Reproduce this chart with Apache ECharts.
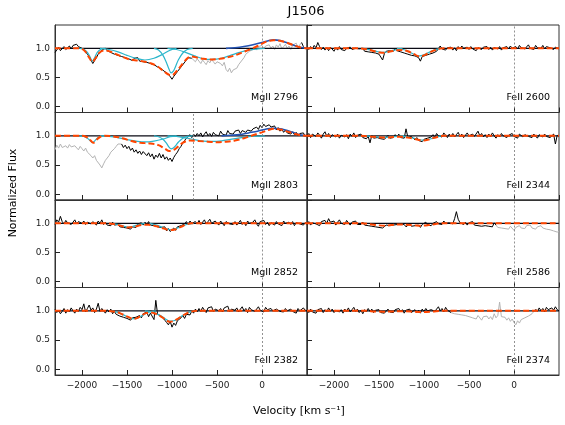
<!DOCTYPE html>
<html>
<head>
<meta charset="utf-8">
<script src="https://cdn.jsdelivr.net/npm/echarts@6/dist/echarts.min.js"></script>
<style>html,body{margin:0;background:#fff}#chart{width:565px;height:425px}</style>
</head>
<body>
<div id="chart"></div>
<script>
// velocity grid of the spectra: vMin + i * vStep
const vMin = -2300, vMax = 500, vStep = 20;
const fluxMin = -0.1, fluxMax = 1.4;
const continuum = 1;

// --- normalized flux, one value per 20 km/s ---
const f2796 = [
  0.93, 0.97, 1.02, 0.96, 0.99, 1.03, 0.98, 1.01, 1.04, 0.99,
  1.05, 1.02, 1.07, 1.03, 1.06, 1.00, 0.98, 0.94, 0.90, 0.86,
  0.80, 0.74, 0.79, 0.84, 0.90, 0.93, 0.97, 0.95, 1.00, 0.96,
  0.97, 0.93, 0.95, 0.90, 0.93, 0.88, 0.91, 0.86, 0.89, 0.84,
  0.87, 0.82, 0.85, 0.79, 0.83, 0.80, 0.84, 0.78, 0.81, 0.77,
  0.80, 0.76, 0.79, 0.74, 0.77, 0.72, 0.74, 0.68, 0.70, 0.65,
  0.64, 0.60, 0.62, 0.56, 0.54, 0.47, 0.52, 0.56, 0.60, 0.63,
  0.68, 0.72, 0.75, 0.80, 0.84, 0.86, 0.83, 0.80, 0.77, 0.82,
  0.78, 0.74, 0.80, 0.76, 0.72, 0.79, 0.75, 0.81, 0.77, 0.73,
  0.77, 0.80, 0.74, 0.70, 0.76, 0.64, 0.60, 0.66, 0.58, 0.63,
  0.60, 0.66, 0.72, 0.70, 0.80, 0.84, 0.90, 0.88, 0.95, 0.93,
  0.98, 1.02, 0.97, 1.03, 1.00, 1.05, 0.99, 1.04, 1.01, 1.06,
  1.00, 1.04, 0.98, 1.06, 1.02, 1.08, 0.99, 1.03, 1.07, 1.00,
  1.04, 0.98, 1.05, 1.02, 1.09, 1.01, 1.06, 1.10, 1.03, 0.99,
  1.02
];
const f2803 = [
  0.76, 0.84, 0.79, 0.86, 0.80, 0.77, 0.83, 0.79, 0.85, 0.81,
  0.78, 0.83, 0.80, 0.76, 0.82, 0.78, 0.74, 0.79, 0.72, 0.69,
  0.66, 0.62, 0.66, 0.58, 0.55, 0.50, 0.45, 0.52, 0.58, 0.62,
  0.66, 0.72, 0.70, 0.78, 0.82, 0.86, 0.84, 0.86, 0.80, 0.84,
  0.78, 0.82, 0.75, 0.79, 0.72, 0.76, 0.70, 0.74, 0.68, 0.73,
  0.70, 0.66, 0.71, 0.64, 0.69, 0.60, 0.67, 0.63, 0.70, 0.62,
  0.68, 0.60, 0.64, 0.58, 0.62, 0.56, 0.63, 0.68, 0.72, 0.78,
  0.82, 0.88, 0.92, 0.96, 0.99, 1.02, 0.97, 1.03, 0.99, 1.04,
  1.00, 1.05, 0.98, 1.03, 1.07, 1.00, 1.04, 0.99, 1.06, 1.02,
  1.05, 1.00, 1.08, 1.03, 1.06, 1.01, 1.09, 1.04, 1.07, 1.03,
  1.08, 1.05, 1.10, 1.04, 1.09, 1.12, 1.06, 1.10, 1.13, 1.08,
  1.12, 1.09, 1.15, 1.11, 1.18, 1.14, 1.20, 1.16, 1.13, 1.19,
  1.15, 1.12, 1.17, 1.10, 1.14, 1.08, 1.12, 1.06, 1.10, 1.05,
  1.08, 1.03, 1.07, 1.02, 1.06, 1.00, 1.04, 1.01, 1.05, 0.99,
  1.02
];
const f2852 = [
  0.98, 1.06, 1.02, 1.12, 1.03, 0.99, 1.05, 1.01, 1.04, 0.98,
  1.02, 1.06, 0.99, 1.03, 1.05, 1.00, 1.04, 0.98, 1.02, 1.05,
  0.99, 1.03, 1.01, 0.97, 1.04, 1.00, 1.06, 0.98, 1.02, 0.97,
  1.00, 0.96, 1.02, 0.97, 0.95, 0.98, 0.94, 0.97, 0.93, 0.96,
  0.92, 0.95, 0.90, 0.94, 0.97, 0.93, 0.99, 0.96, 1.01, 0.97,
  1.02, 0.98, 1.03, 0.97, 1.00, 0.96, 0.99, 0.94, 0.97, 0.93,
  0.90, 0.94, 0.87, 0.91, 0.86, 0.89, 0.92, 0.88, 0.94, 0.91,
  0.96, 0.93, 0.99, 1.03, 0.98, 1.04, 1.00, 0.97, 1.03, 0.99,
  1.05, 0.98, 1.02, 1.06, 0.99, 1.03, 1.07, 1.00, 0.97, 1.04,
  1.01, 0.97, 1.04, 1.00, 0.96, 1.03, 1.06, 0.99, 1.02, 0.98,
  1.03, 0.97, 1.01, 1.05, 0.98, 1.02, 0.96, 1.04, 1.00, 0.97,
  1.02, 1.06, 0.99, 0.95, 1.03, 1.00, 1.05, 0.98, 1.02, 0.96,
  1.01, 1.04, 0.97, 1.03, 0.99, 1.02, 0.96, 1.04, 1.00, 0.97,
  1.02, 0.98, 1.03, 0.96, 1.01, 1.04, 0.99, 1.02, 0.97, 1.01,
  0.99
];
const f2382 = [
  1.03, 0.97, 1.01, 0.95, 0.99, 1.04, 0.96, 1.02, 0.98, 1.05,
  1.00, 0.96, 1.03, 0.99, 1.06, 1.02, 1.12, 0.98, 1.04, 1.10,
  1.01, 1.05, 0.97, 1.03, 1.13, 0.99, 1.04, 1.00, 0.96, 1.02,
  0.98, 1.03, 0.95, 0.99, 0.94, 0.97, 0.91, 0.93, 0.89, 0.92,
  0.87, 0.90, 0.84, 0.88, 0.85, 0.89, 0.86, 0.92, 0.88, 0.95,
  0.93, 0.98, 0.90, 0.96, 0.99, 0.85, 1.18, 0.94, 0.97, 0.91,
  0.88, 0.84, 0.80, 0.76, 0.82, 0.72, 0.79, 0.75, 0.83, 0.86,
  0.88, 0.92, 0.87, 0.94, 0.97, 0.93, 1.00, 0.96, 1.03, 0.98,
  1.04, 0.99, 1.06, 1.01, 0.97, 1.05, 1.02, 1.07, 0.99, 1.03,
  1.06, 1.00, 1.04, 0.98, 1.05, 1.02, 1.08, 0.99, 1.03, 1.06,
  1.01, 1.05, 0.98, 1.03, 1.07, 1.00, 1.04, 0.97, 1.06, 1.02,
  1.05, 0.99, 1.03, 1.07, 1.01, 1.04, 0.98, 1.06, 1.02, 0.99,
  1.04, 1.00, 0.97, 1.03, 1.06, 0.99, 1.02, 0.98, 1.04, 1.00,
  0.97, 1.03, 0.99, 1.02, 0.96, 1.04, 1.00, 0.98, 1.05, 1.01,
  1.00
];
const f2600 = [
  1.02, 0.98, 1.03, 0.99, 1.05, 1.01, 1.10, 1.03, 0.98, 1.02,
  0.97, 1.01, 0.96, 1.02, 0.99, 0.95, 1.01, 0.97, 1.03, 0.98,
  1.01, 0.96, 1.00, 0.97, 1.02, 0.98, 0.95, 1.00, 0.97, 0.99,
  0.96, 1.00, 0.95, 0.98, 0.94, 0.97, 0.93, 0.96, 0.92, 0.95,
  0.90, 0.93, 0.80, 0.91, 0.95, 0.92, 0.96, 0.99, 0.95, 1.00,
  0.96, 0.99, 0.94, 0.97, 0.92, 0.95, 0.90, 0.93, 0.88, 0.91,
  0.87, 0.90, 0.84, 0.78, 0.86, 0.83, 0.88, 0.85, 0.90, 0.87,
  0.92, 0.89, 0.95, 0.98, 1.04, 0.99, 1.02, 0.97, 1.01, 0.98,
  1.02, 0.97, 1.01, 0.96, 1.03, 0.99, 1.04, 1.00, 0.97, 1.02,
  0.98, 1.03, 0.99, 1.02, 0.96, 1.01, 1.04, 0.98, 1.02, 0.99,
  1.03, 0.98, 1.02, 0.97, 1.01, 1.04, 0.99, 1.03, 0.97, 1.01,
  0.98, 1.03, 0.99, 1.04, 1.00, 0.97, 1.03, 0.99, 1.05, 1.01,
  1.04, 0.99, 1.02, 1.06, 1.00, 1.03, 0.98, 1.05, 1.01, 1.04,
  1.00, 1.05, 0.99, 1.03, 1.06, 1.01, 1.04, 0.98, 1.02, 1.00,
  0.99
];
const f2344 = [
  1.00, 1.04, 0.97, 1.03, 1.06, 0.99, 1.05, 1.01, 0.96, 1.03,
  1.07, 0.99, 1.04, 0.97, 1.02, 1.05, 0.98, 1.03, 0.96, 1.01,
  1.04, 0.98, 1.02, 0.95, 1.03, 0.99, 1.05, 0.97, 1.01, 0.98,
  1.03, 0.97, 1.00, 0.95, 0.99, 0.88, 1.01, 0.96, 0.99, 0.97,
  1.00, 0.95, 0.98, 0.94, 0.97, 1.01, 0.96, 0.99, 0.97, 1.02,
  0.98, 1.03, 0.97, 1.00, 0.96, 1.12, 0.98, 0.95, 0.99, 0.96,
  0.93, 0.97, 0.92, 0.95, 0.90, 0.94, 0.91, 0.96, 0.93, 0.98,
  1.02, 0.97, 1.04, 1.00, 1.03, 0.98, 1.05, 1.01, 0.97, 1.03,
  0.99, 1.04, 0.98, 1.02, 1.06, 0.99, 1.03, 0.97, 1.01, 1.05,
  1.00, 0.97, 1.03, 0.99, 1.02, 1.08, 1.00, 1.04, 0.98, 1.02,
  0.97, 1.03, 0.99, 1.05, 1.00, 0.96, 1.02, 0.98, 1.04, 1.00,
  1.03, 0.97, 1.01, 0.98, 1.04, 0.99, 1.02, 0.96, 1.03, 1.00,
  0.98, 1.02, 1.04, 0.99, 1.01, 0.97, 1.03, 1.00, 0.96, 1.02,
  1.01, 0.98, 1.03, 0.99, 1.02, 0.97, 1.00, 1.03, 0.86, 1.01,
  0.99
];
const f2586 = [
  0.98, 1.03, 0.97, 1.01, 1.04, 0.99, 1.02, 0.96, 1.03, 1.00,
  1.05, 1.00, 1.08, 1.02, 0.99, 1.04, 0.97, 1.02, 1.06, 1.00,
  1.03, 0.98, 1.05, 1.01, 0.97, 1.02, 0.99, 1.04, 0.98, 1.01,
  0.98, 1.02, 0.97, 0.99, 0.96, 0.98, 0.95, 0.97, 0.94, 0.96,
  0.93, 0.96, 0.92, 0.95, 0.97, 0.94, 0.96, 0.93, 0.97, 0.95,
  0.98, 0.95, 0.99, 0.96, 0.98, 0.94, 0.97, 0.99, 0.95, 0.98,
  0.96, 0.94, 0.97, 0.93, 0.98, 0.95, 1.02, 0.97, 0.99, 0.96,
  1.00, 0.97, 1.03, 0.99, 1.02, 0.98, 1.04, 1.00, 0.97, 1.01,
  1.03, 0.99, 1.08, 1.20, 1.07, 1.01, 1.04, 0.98, 1.02, 0.97,
  1.01, 0.98, 1.03, 0.97, 1.00, 0.96, 0.99, 0.95, 0.98, 0.96,
  0.99, 0.95, 0.98, 0.94, 1.01, 0.97, 0.93, 0.96, 0.92, 0.95,
  0.91, 0.94, 0.90, 0.95, 0.92, 0.88, 0.93, 0.90, 0.96, 0.92,
  0.95, 0.91, 0.96, 0.93, 0.97, 0.92, 0.95, 0.90, 0.94, 0.91,
  0.96, 0.92, 0.95, 0.90, 0.93, 0.89, 0.92, 0.87, 0.88, 0.85,
  0.86
];
const f2374 = [
  1.01, 0.97, 1.03, 0.98, 1.00, 0.96, 1.02, 0.99, 1.04, 0.97,
  1.02, 0.98, 1.05, 0.99, 1.03, 0.97, 1.01, 1.04, 0.98, 1.02,
  0.96, 1.03, 0.99, 1.05, 0.98, 1.02, 1.06, 0.99, 1.03, 0.97,
  1.01, 0.95, 1.02, 0.98, 1.04, 0.99, 1.03, 0.97, 1.01, 0.98,
  1.02, 0.97, 1.00, 0.96, 0.99, 1.03, 0.98, 1.01, 0.97, 1.02,
  0.99, 1.04, 0.98, 1.02, 0.96, 1.01, 0.99, 1.03, 0.97, 1.00,
  1.02, 0.97, 1.01, 0.96, 1.03, 0.99, 1.04, 1.00, 0.97, 1.02,
  1.05, 0.99, 1.03, 1.07, 1.00, 1.04, 0.98, 1.06, 1.01, 1.03,
  0.97, 0.99, 0.95, 0.98, 0.94, 0.97, 0.93, 0.96, 0.92, 0.95,
  0.90, 0.93, 0.88, 0.91, 0.86, 0.92, 0.89, 0.84, 0.90, 0.87,
  0.91, 0.86, 0.90, 0.85, 0.95, 0.88, 0.92, 1.15, 0.90, 0.87,
  0.89, 0.84, 0.88, 0.82, 0.86, 0.80, 0.76, 0.83, 0.79, 0.85,
  0.82, 0.88, 0.85, 0.91, 0.89, 0.95, 0.98, 1.03, 0.99, 1.05,
  1.00, 1.04, 0.98, 1.06, 1.02, 0.99, 1.05, 1.01, 1.07, 1.02,
  1.00
];

// --- fitted total models [velocity, flux] ---
const m2796 = [[-2300, 1], [-2050, 1], [-2000, 0.99], [-1960, 0.94], [-1920, 0.84], [-1885, 0.77], [-1850, 0.83],
  [-1810, 0.92], [-1770, 0.96], [-1720, 0.96], [-1650, 0.92], [-1560, 0.86], [-1470, 0.81], [-1380, 0.79],
  [-1300, 0.77], [-1230, 0.74], [-1160, 0.69], [-1110, 0.63], [-1060, 0.57], [-1030, 0.545], [-1010, 0.54],
  [-985, 0.55], [-960, 0.59], [-910, 0.68], [-870, 0.76], [-820, 0.84], [-780, 0.86], [-720, 0.84], [-650, 0.82],
  [-560, 0.81], [-470, 0.82], [-400, 0.84], [-300, 0.88], [-200, 0.94], [-120, 0.99], [-50, 1.04], [0, 1.08],
  [60, 1.12], [130, 1.14], [200, 1.13], [270, 1.1], [340, 1.06], [420, 1.02], [500, 1.0]];
const m2803 = [[-2300, 1], [-2000, 1], [-1950, 0.98], [-1910, 0.93], [-1875, 0.88], [-1840, 0.93], [-1800, 0.98],
  [-1750, 1], [-1650, 0.99], [-1550, 0.96], [-1450, 0.91], [-1350, 0.88], [-1250, 0.87], [-1150, 0.84],
  [-1080, 0.78], [-1030, 0.74], [-980, 0.76], [-930, 0.82], [-870, 0.89], [-800, 0.92], [-700, 0.91],
  [-600, 0.9], [-500, 0.89], [-400, 0.9], [-300, 0.92], [-200, 0.96], [-100, 1.01], [0, 1.06], [70, 1.1],
  [130, 1.12], [200, 1.11], [270, 1.08], [350, 1.04], [430, 1.01], [500, 1.0]];
const m2852 = [[-2300, 1], [-1750, 1], [-1650, 0.99], [-1560, 0.955], [-1490, 0.93], [-1420, 0.94], [-1340, 0.97],
  [-1260, 0.975], [-1170, 0.95], [-1090, 0.91], [-1020, 0.885], [-960, 0.9], [-900, 0.94], [-840, 0.98],
  [-780, 1], [500, 1]];
const m2382 = [[-2300, 1], [-1720, 1], [-1650, 0.99], [-1580, 0.96], [-1510, 0.91], [-1460, 0.875], [-1430, 0.86],
  [-1390, 0.875], [-1340, 0.92], [-1290, 0.96], [-1240, 0.97], [-1190, 0.955], [-1130, 0.91], [-1080, 0.86],
  [-1030, 0.815], [-990, 0.82], [-940, 0.86], [-880, 0.92], [-820, 0.97], [-760, 0.995], [-720, 1], [500, 1]];
const m2600 = [[-2300, 1], [-1720, 1], [-1640, 0.985], [-1560, 0.955], [-1490, 0.93], [-1440, 0.925], [-1390, 0.94],
  [-1320, 0.965], [-1250, 0.97], [-1180, 0.95], [-1110, 0.9], [-1060, 0.865], [-1010, 0.875], [-950, 0.92],
  [-880, 0.97], [-820, 0.995], [-780, 1], [500, 1]];
const m2344 = [[-2300, 1], [-1700, 1], [-1600, 0.99], [-1500, 0.975], [-1420, 0.97], [-1340, 0.98], [-1260, 0.985],
  [-1180, 0.97], [-1100, 0.945], [-1040, 0.925], [-1000, 0.92], [-950, 0.935], [-890, 0.965], [-830, 0.99],
  [-780, 1], [500, 1]];
const m2586 = [[-2300, 1], [-1700, 1], [-1600, 0.985], [-1500, 0.965], [-1430, 0.96], [-1360, 0.97], [-1280, 0.98],
  [-1200, 0.975], [-1100, 0.965], [-1020, 0.96], [-950, 0.97], [-870, 0.99], [-800, 1], [500, 1]];
const m2374 = [[-2300, 1], [-1650, 1], [-1550, 0.99], [-1450, 0.985], [-1350, 0.99], [-1200, 0.995],
  [-1100, 0.985], [-1000, 0.98], [-900, 0.99], [-800, 1], [500, 1]];

// --- individual absorption components ---
const c2796 = [
  [[-2030, 1], [-1980, 0.985], [-1940, 0.93], [-1910, 0.85], [-1895, 0.8], [-1885, 0.785], [-1875, 0.8], [-1860, 0.84], [-1830, 0.93], [-1790, 0.985], [-1740, 1]],
  [[-1800, 1], [-1700, 0.98], [-1600, 0.94], [-1500, 0.88], [-1400, 0.83], [-1300, 0.8], [-1200, 0.83], [-1100, 0.9], [-1020, 0.97], [-950, 1]],
  [[-1200, 1], [-1150, 0.97], [-1100, 0.88], [-1060, 0.75], [-1035, 0.65], [-1010, 0.58], [-985, 0.61], [-960, 0.69], [-930, 0.8], [-880, 0.92], [-830, 0.98], [-770, 1]],
  [[-1050, 1], [-950, 0.98], [-850, 0.93], [-750, 0.87], [-650, 0.82], [-550, 0.81], [-450, 0.83], [-350, 0.88], [-250, 0.93], [-150, 0.97], [-50, 0.99], [30, 1]]
];
const c2803 = [
  [[-2030, 1], [-1980, 0.99], [-1940, 0.96], [-1910, 0.92], [-1885, 0.885], [-1860, 0.91], [-1830, 0.96], [-1790, 0.99], [-1740, 1]],
  [[-1800, 1], [-1700, 0.99], [-1600, 0.97], [-1500, 0.935], [-1400, 0.91], [-1300, 0.895], [-1200, 0.91], [-1100, 0.945], [-1020, 0.985], [-950, 1]],
  [[-1200, 1], [-1150, 0.985], [-1100, 0.94], [-1060, 0.87], [-1035, 0.81], [-1010, 0.775], [-985, 0.79], [-960, 0.83], [-930, 0.89], [-880, 0.96], [-830, 0.99], [-770, 1]],
  [[-1050, 1], [-950, 0.99], [-850, 0.965], [-750, 0.935], [-650, 0.91], [-550, 0.905], [-450, 0.915], [-350, 0.94], [-250, 0.965], [-150, 0.985], [-50, 0.995], [30, 1]]
];
const c2852 = [
  [[-1700, 1], [-1600, 0.98], [-1530, 0.95], [-1490, 0.935], [-1440, 0.945], [-1380, 0.975], [-1300, 1]],
  [[-1250, 1], [-1170, 0.97], [-1090, 0.92], [-1020, 0.89], [-960, 0.905], [-900, 0.945], [-830, 0.985], [-760, 1]]
];
const c2382 = [
  [[-1700, 1], [-1620, 0.98], [-1540, 0.93], [-1470, 0.88], [-1430, 0.865], [-1380, 0.88], [-1320, 0.93], [-1250, 0.98], [-1180, 1]],
  [[-1300, 1], [-1220, 0.98], [-1140, 0.93], [-1080, 0.87], [-1030, 0.825], [-980, 0.83], [-920, 0.88], [-850, 0.95], [-780, 0.99], [-720, 1]]
];
const c2600 = [
  [[-1700, 1], [-1600, 0.975], [-1520, 0.945], [-1450, 0.93], [-1390, 0.945], [-1320, 0.975], [-1240, 1]],
  [[-1300, 1], [-1220, 0.975], [-1140, 0.92], [-1070, 0.87], [-1020, 0.88], [-960, 0.92], [-890, 0.97], [-820, 1]]
];
const c2344 = [
  [[-1650, 1], [-1550, 0.985], [-1460, 0.972], [-1380, 0.978], [-1300, 0.99], [-1220, 1]],
  [[-1250, 1], [-1160, 0.975], [-1080, 0.945], [-1010, 0.925], [-950, 0.94], [-880, 0.97], [-810, 1]]
];

// --- emission components ---
const e2796 = [[-400, 1], [-300, 1.01], [-200, 1.03], [-100, 1.06], [0, 1.1], [70, 1.13], [130, 1.145],
  [200, 1.135], [270, 1.1], [340, 1.06], [420, 1.02], [500, 1.0]];
const e2803 = [[-450, 1], [-350, 1.01], [-250, 1.02], [-150, 1.05], [-50, 1.08], [30, 1.11], [110, 1.13],
  [180, 1.125], [260, 1.1], [340, 1.06], [420, 1.02], [500, 1.0]];

const panels = [
  {label: 'MgII 2796', flux: f2796, model: m2796, comps: c2796, emis: e2796, masked: [[-770, 420]], marks: [0]},
  {label: 'MgII 2803', flux: f2803, model: m2803, comps: c2803, emis: e2803, masked: [[-2300, -1570]], marks: [0, -769]},
  {label: 'MgII 2852', flux: f2852, model: m2852, comps: c2852, emis: null, masked: [], marks: [0]},
  {label: 'FeII 2382', flux: f2382, model: m2382, comps: c2382, emis: null, masked: [], marks: [0]},
  {label: 'FeII 2600', flux: f2600, model: m2600, comps: c2600, emis: null, masked: [], marks: [0]},
  {label: 'FeII 2344', flux: f2344, model: m2344, comps: c2344, emis: null, masked: [], marks: [0]},
  {label: 'FeII 2586', flux: f2586, model: m2586, comps: [], emis: null, masked: [[-190, 500]], marks: [0]},
  {label: 'FeII 2374', flux: f2374, model: m2374, comps: [], emis: null, masked: [[-690, 220]], marks: [0]}
];

const FONT = 'DejaVu Sans';
const colLeft = [55, 307], panelW = 252;
const rowTop = [25, 112.5, 200, 287.5], panelH = 87.5;

function splitFlux(flux, masked) {
  const isMasked = i => {
    const v = vMin + i * vStep;
    return masked.some(r => v >= r[0] && v <= r[1]);
  };
  const black = [], grey = [];
  flux.forEach((f, i) => {
    const v = vMin + i * vStep;
    const m = isMasked(i);
    const edge = (i > 0 && isMasked(i - 1)) || (i < flux.length - 1 && isMasked(i + 1));
    black.push([v, m ? '-' : f]);
    grey.push([v, (m || edge) ? f : '-']);
  });
  return {black, grey};
}

const grid = [], xAxis = [], yAxis = [], series = [], graphic = [];
const spine = {show: true, onZero: false, lineStyle: {color: '#333', width: 1}};
const ticks = {show: true, inside: true, length: 5, lineStyle: {color: '#222', width: 1}};

panels.forEach((p, i) => {
  const col = i < 4 ? 0 : 1, row = i % 4;
  grid.push({left: colLeft[col], top: rowTop[row], width: panelW, height: panelH,
    show: true, borderColor: '#333', borderWidth: 1, backgroundColor: 'transparent'});
  // default nice ticks (every 500 / every 0.5); the end values of the range get no label
  xAxis.push({
    type: 'value', gridIndex: i, min: vMin, max: vMax, splitNumber: 5, position: 'bottom',
    axisLine: spine, splitLine: {show: false}, axisTick: ticks,
    axisLabel: {show: row === 3, showMinLabel: false, showMaxLabel: false,
      fontFamily: FONT, fontSize: 9, color: '#222', margin: 6,
      formatter: v => v < 0 ? '\u2212' + Math.abs(v) : String(v)}
  });
  yAxis.push({
    type: 'value', gridIndex: i, min: fluxMin, max: fluxMax, splitNumber: 3, position: 'left',
    axisLine: spine, splitLine: {show: false}, axisTick: ticks,
    axisLabel: {show: col === 0, showMinLabel: false, showMaxLabel: false,
      fontFamily: FONT, fontSize: 9, color: '#222', margin: 5,
      formatter: v => (+v).toFixed(1)}
  });

  const d = splitFlux(p.flux, p.masked);
  const base = {type: 'line', xAxisIndex: i, yAxisIndex: i, showSymbol: false, silent: true};
  series.push(Object.assign({}, base, {data: d.grey, z: 2, lineStyle: {color: '#b4b4b4', width: 1}}));
  series.push(Object.assign({}, base, {data: d.black, z: 2, lineStyle: {color: '#000', width: 1}}));
  series.push(Object.assign({}, base, {
    data: [[vMin, continuum], [vMax, continuum]], z: 3, lineStyle: {color: '#0a0a14', width: 1.3},
    markLine: {silent: true, symbol: ['none', 'none'], label: {show: false},
      lineStyle: {color: '#777', type: [2, 2], width: 0.8},
      data: p.marks.map(v => ({xAxis: v}))}
  }));
  p.comps.forEach(c => series.push(Object.assign({}, base, {
    data: c, z: 4, smooth: 0.35, lineStyle: {color: '#2bb6cb', width: 1.2}
  })));
  if (p.emis) series.push(Object.assign({}, base, {
    data: p.emis, z: 5, smooth: 0.35, lineStyle: {color: '#2352b2', width: 1.6}
  }));
  series.push(Object.assign({}, base, {
    data: p.model, z: 6, smooth: 0.35, lineStyle: {color: '#ff4500', width: 2, type: [6, 3]}
  }));

  graphic.push({type: 'text', x: colLeft[col] + panelW - 9, y: rowTop[row] + 73,
    style: {text: p.label, font: '9.5px "' + FONT + '"', fill: '#000',
      align: 'right', verticalAlign: 'middle', textAlign: 'right', textVerticalAlign: 'middle'}});
});

graphic.push({type: 'text', x: 306, y: 12,
  style: {text: 'J1506', font: '13px "' + FONT + '"', fill: '#000',
    align: 'center', verticalAlign: 'middle', textAlign: 'center', textVerticalAlign: 'middle'}});
graphic.push({type: 'text', x: 299, y: 411,
  style: {text: 'Velocity [km s\u207B\u00B9]', font: '11px "' + FONT + '"', fill: '#000',
    align: 'center', verticalAlign: 'middle', textAlign: 'center', textVerticalAlign: 'middle'}});
graphic.push({type: 'text', x: 13, y: 193, rotation: Math.PI / 2,
  style: {text: 'Normalized Flux', font: '11px "' + FONT + '"', fill: '#000',
    align: 'center', verticalAlign: 'middle', textAlign: 'center', textVerticalAlign: 'middle'}});

const chart = echarts.init(document.getElementById('chart'));
chart.setOption({animation: false, backgroundColor: '#fff', grid, xAxis, yAxis, series, graphic});
</script>
</body>
</html>
